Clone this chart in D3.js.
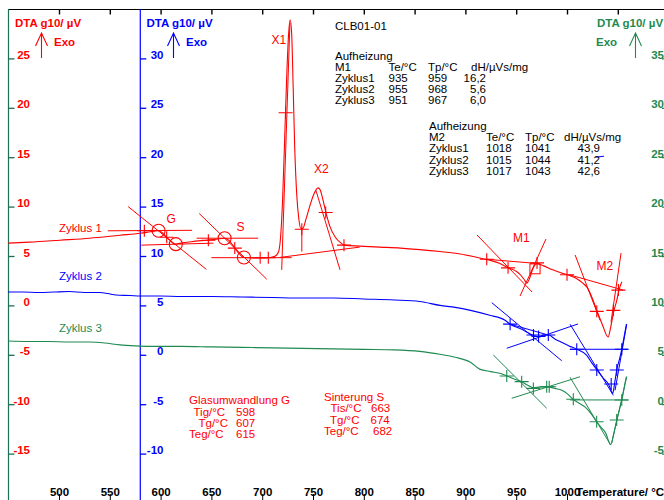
<!DOCTYPE html>
<html><head><meta charset="utf-8">
<script src="https://cdn.jsdelivr.net/npm/d3@7/dist/d3.min.js"></script>
<style>
body{margin:0;background:#fff;}
svg{display:block;font-family:"Liberation Sans",Arial,sans-serif;}
</style></head><body>
<script>
// ---------- data ----------
const xTicks = [500,550,600,650,700,750,800,850,900,950,1000];
const topTicks = [500,550,600,650,700,750,800,850,900,950,1000,1050];
const redTicks = [-15,-10,-5,0,5,10,15,20,25];
const blueTicks = [-10,-5,0,5,10,15,20,25,30];
const greenTicks = [-5,0,5,10,15,20,25,30,35];

// Zyklus 1 (red scale), Temperature °C / µV
const redCurve = [[450,6.3],[471,6.4],[501,6.6],[530,6.8],[560,7.1],[580,7.3],[590,7.45],[597,7.55],[601,7.4],[604,7.1],[609,6.6],[614,6.2],[620,6.3],[630,6.45],[645,6.6],[655,6.7],[663,6.8],[667,6.6],[671,6.1],[676,5.4],[682,4.85],[690,4.8],[700,4.8],[708,4.85],[713,5.0],[716,5.4],[718,6.8],[720,10.5],[722,16.5],[724,22.8],[726,27.5],[727.5,28.9],[729,27.5],[730.5,22],[732,16],[734,11.2],[736,8.8],[738,7.8],[740,7.8],[743,8.7],[747,10.1],[751,11.3],[755,11.9],[757,11.7],[760,10.6],[763,9.3],[767,7.9],[772,6.9],[777,6.35],[781,6.1],[796,6.0],[816,5.9],[836,5.8],[855,5.65],[875,5.45],[895,5.2],[910,4.9],[921,4.65],[934,4.25],[942,3.8],[950,3.45],[955,3.0],[958,2.6],[960.5,2.25],[963,2.7],[966,3.6],[970,4.25],[977,4.0],[986,3.6],[994,3.3],[1000,3.1],[1008,2.8],[1015,2.3],[1020,1.8],[1025,0.7],[1030,-0.7],[1035,-2.0],[1040.5,-3.2],[1043,-2.2],[1046,-0.6],[1049,0.5],[1051,1.5],[1054,2.4]];
// Zyklus 2 (blue scale)
const blueCurve = [[450,6.35],[465,6.35],[480,6.3],[495,6.35],[510,6.4],[525,6.3],[540,6.3],[548,6.2],[556,6.05],[570,6.0],[580,5.95],[600,5.95],[620,5.9],[650,5.9],[680,5.85],[710,5.8],[740,5.75],[770,5.75],[800,5.65],[830,5.55],[855,5.4],[875,5.0],[890,4.8],[905,4.5],[924,4.0],[939,3.5],[944,3.1],[955,2.6],[962,2.2],[967,1.95],[972,1.85],[977,2.0],[982,2.0],[988,1.6],[994,1.3],[1002,0.9],[1010,0.55],[1019,0.0],[1025,-0.9],[1030,-1.6],[1036,-2.4],[1041,-3.0],[1045,-3.9],[1047,-2.8],[1049,-1.5],[1052,-0.3],[1054,0.6],[1056.5,2.0],[1058.5,3.1]];
// Zyklus 3 (green scale)
const greenCurve = [[450,6.4],[470,6.35],[490,6.35],[510,6.3],[530,6.3],[545,6.2],[560,6.0],[575,5.9],[590,5.85],[620,5.85],[650,5.8],[680,5.75],[710,5.7],[740,5.65],[770,5.6],[800,5.55],[830,5.5],[855,5.35],[875,5.05],[890,4.75],[905,4.25],[914,3.55],[925,3.3],[935,3.1],[941,2.85],[948,2.55],[955,2.3],[961,1.95],[967,1.65],[974,1.75],[981,1.75],[988,1.6],[995,1.4],[1001,1.0],[1006,0.5],[1012,0.1],[1018,-0.3],[1024,-1.0],[1029,-1.75],[1034,-2.4],[1038,-2.9],[1043,-4.1],[1046,-3.0],[1049,-1.6],[1052,-0.4],[1054,0.4],[1056.5,1.8],[1058.5,2.8]];

// evaluation lines (tangents / baselines)
const redLines = [
 [[548,7.55],[631,7.6]], [[568,10.0],[645,3.65]], [[581,6.1],[652,6.3]],
 [[635.5,6.8],[696,6.8]], [[638,9.3],[704.5,2.65]], [[650,4.83],[729,4.83]],
 [[717,4.85],[796,5.9]], [[719.2,3.6],[727.3,28.6]], [[739,7.7],[739,5.45]], [[753,11.6],[776.6,3.6]],
 [[921,4.67],[968.6,4.26]], [[911.4,7.13],[965.6,1.36]], [[953.8,0.95],[979.3,6.72]],
 [[1003,3.08],[1055,1.56]], [[1008,5.1],[1032.5,-1.5]], [[1053.2,5.3],[1043.3,-1.7]]
];
const redCross = [[584,7.55],[606,6.9],[647,6.6],[673,5.8],[698,4.83],[706,4.83],[723,19.5],[739,7.7],[762.5,9.4],[780.5,6.1],[921,4.67],[942,3.8],[970.5,4.3],[1000,3.1],[1029.3,-0.6],[1045.6,-0.5],[1050.6,1.55]];
const redCircles = [[598,7.55],[615,6.2],[663,6.8],[682,4.85]];
const blueLines = [
 [[926,5.27],[994.8,-0.6]], [[940.7,0.66],[1010.8,3.12]], [[944,3.1],[981.6,2.0]],
 [[1003,3.1],[1045.6,-4.1]], [[1003,0.56],[1060,0.56]], [[1047.3,-3.6],[1058.8,3.1]],
 [[1028.6,20.0],[1036.4,20.1]]
];
const blueCross = [[944,3.1],[967,2.0],[972,1.85],[981.6,2.0],[1009.6,0.56],[1029.3,-1.54],[1043.5,-2.95],[1049,-1.54],[1053.9,0.56]];
const greenLines = [
 [[927.5,4.98],[980,-0.41]], [[945.6,0.6],[1012.8,2.78]],
 [[1003,2.72],[1043,-4.13]], [[1003,0.43],[1060.3,0.43]], [[1044,-3.93],[1058.8,2.78]]
];
const greenCross = [[940.7,2.85],[955.4,2.28],[966.9,1.6],[980,1.77],[982.5,1.77],[1006.2,0.5],[1029.2,-1.77],[1048.9,-1.6],[1053.9,0.43]];

const m1Header = ["M1","Te/°C","Tp/°C","dH/µVs/mg"];
const m1Rows = [["Zyklus1","935","959","16,2"],["Zyklus2","955","968","5,6"],["Zyklus3","951","967","6,0"]];
const m2Header = ["M2","Te/°C","Tp/°C","dH/µVs/mg"];
const m2Rows = [["Zyklus1","1018","1041","43,9"],["Zyklus2","1015","1044","41,2"],["Zyklus3","1017","1043","42,6"]];
const glassRows = [["Tig/°C","598"],["Tg/°C","607"],["Teg/°C","615"]];
const sinterRows = [["Tis/°C","663"],["Tg/°C","674"],["Teg/°C","682"]];

// ---------- drawing ----------
const RED="#ff0000", BLUE="#0000ff", GREEN="#1f8a50", AXG="#1f6f55";
const W=664,H=500;
const svg=d3.select("body").append("svg").attr("width",W).attr("height",H);

const x=d3.scaleLinear().domain([500,1000]).range([59,567]);
const yRed=d3.scaleLinear().domain([0,25]).range([305.4,58.4]);
const yBlue=d3.scaleLinear().domain([0,30]).range([354.8,58.4]);
const yGreen=d3.scaleLinear().domain([0,35]).range([404.2,58.4]);

// frame lines
svg.append("line").attr("x1",8.5).attr("x2",W).attr("y1",9.5).attr("y2",9.5).attr("stroke","#000");
svg.append("line").attr("x1",8.5).attr("x2",8.5).attr("y1",9).attr("y2",H).attr("stroke",AXG).attr("stroke-width",1.2);
svg.append("line").attr("x1",x(580)).attr("x2",x(580)).attr("y1",9).attr("y2",H).attr("stroke",BLUE).attr("stroke-width",1.2);

// top ticks
const gTop=svg.append("g").attr("transform","translate(0,9.5)")
 .call(d3.axisBottom(x).tickValues(topTicks).tickSize(5).tickFormat(""));
gTop.select(".domain").remove();
gTop.selectAll("line").attr("stroke","#000").attr("stroke-width",1.4);

// bottom axis
const gBot=svg.append("g").attr("transform","translate(0,500)")
 .call(d3.axisTop(x).tickValues(xTicks).tickSize(6).tickFormat(d=>String(d)));
gBot.select(".domain").remove();
gBot.selectAll("line").attr("stroke","#000");
gBot.selectAll("text").attr("y",-4).attr("dy",0).attr("fill","#000")
 .style("font-size","11.5px").style("font-weight","bold").style("font-family","Liberation Sans, Arial");
svg.append("text").attr("x",576).attr("y",496).text("Temperature/ °C")
 .attr("font-size","11.5px").attr("font-weight","bold").attr("fill","#000");

function yAxis(scale,ticks,tx,orient,textX,col,tickCol){
  const ax=(orient==="right"?d3.axisRight(scale):d3.axisLeft(scale)).tickValues(ticks).tickSize(6).tickFormat(d=>String(d));
  const g=svg.append("g").attr("transform",`translate(${tx},0)`).call(ax);
  g.select(".domain").remove();
  g.selectAll("line").attr("stroke",tickCol).attr("stroke-width",1.3);
  g.selectAll("text").attr("x",textX).attr("dy",0).attr("text-anchor","end").attr("fill",col)
   .style("font-size","11.5px").style("font-weight","bold").style("font-family","Liberation Sans, Arial");
}
yAxis(yRed,redTicks,8.5,"right",21.5,RED,AXG);
yAxis(yBlue,blueTicks,x(580),"right",163.5-x(580),BLUE,BLUE);
yAxis(yGreen,greenTicks,668,"left",-4,GREEN,GREEN);

// axis headers
function header(x0,col,exoX,arrowX){
  svg.append("text").attr("x",x0).attr("y",27).text("DTA g10/ µV").attr("fill",col)
   .attr("font-size","11.5px").attr("font-weight","bold");
  svg.append("text").attr("x",exoX).attr("y",45.5).text("Exo").attr("fill",col)
   .attr("font-size","11.5px").attr("font-weight","bold");
  svg.append("path").attr("d",`M${arrowX},58 V33 M${arrowX-6},46 L${arrowX},33 L${arrowX+6},46`)
   .attr("fill","none").attr("stroke",col).attr("stroke-width",1.1);
}
header(15,RED,54,41.5);
header(146.5,BLUE,186,173.5);
header(597,GREEN,596,635.5);

// curves
function curve(data,ys,col){
  svg.append("path").datum(data).attr("fill","none").attr("stroke",col).attr("stroke-width",1.1)
   .attr("d",d3.line().x(d=>x(d[0])).y(d=>ys(d[1])).curve(d3.curveMonotoneX));
}
function segs(lines,ys,col){
  svg.append("g").selectAll("line").data(lines).join("line")
   .attr("x1",d=>x(d[0][0])).attr("y1",d=>ys(d[0][1]))
   .attr("x2",d=>x(d[1][0])).attr("y2",d=>ys(d[1][1]))
   .attr("stroke",col).attr("stroke-width",1);
}
function crosses(pts,ys,col){
  svg.append("g").selectAll("path").data(pts).join("path")
   .attr("d",d=>{const px=x(d[0]),py=ys(d[1]);return `M${px-7},${py}H${px+7}M${px},${py-6}V${py+6}`;})
   .attr("stroke",col).attr("stroke-width",1.1).attr("fill","none");
}
segs(redLines,yRed,RED);
segs(blueLines,yBlue,BLUE);
segs(greenLines,yGreen,GREEN);
curve(redCurve,yRed,RED);
curve(blueCurve,yBlue,BLUE);
curve(greenCurve,yGreen,GREEN);
crosses(redCross,yRed,RED);
crosses(blueCross,yBlue,BLUE);
crosses(greenCross,yGreen,GREEN);
svg.append("g").selectAll("circle").data(redCircles).join("circle")
 .attr("cx",d=>x(d[0])).attr("cy",d=>yRed(d[1])).attr("r",6.5)
 .attr("fill","none").attr("stroke",RED).attr("stroke-width",1.1);
svg.append("rect").attr("x",x(963.5)).attr("y",yRed(4.2)).attr("width",x(973.5)-x(963.5)).attr("height",yRed(3.2)-yRed(4.2))
 .attr("fill","none").attr("stroke",RED);

// texts
function txt(t,x0,y0,col,size,anchor){
  svg.append("text").attr("x",x0).attr("y",y0).text(t).attr("fill",col)
   .attr("font-size",size||"11.5px").attr("text-anchor",anchor||"start");
}
txt("X1",271.5,44,RED,"12px");
txt("X2",314,173,RED,"12px");
txt("G",166.5,222.5,RED,"12px");
txt("S",236.5,231,RED,"12px");
txt("M1",513,242,RED,"12px");
txt("M2",596.5,270,RED,"12px");
txt("Zyklus 1",59,232,RED);
txt("Zyklus 2",59,280,BLUE);
txt("Zyklus 3",59,332,GREEN);

txt("CLB01-01",335,30,"#000");
function table(x0,cols,y0,header,rows){
  txt("Aufheizung",x0,y0,"#000");
  header.forEach((h,i)=>txt(h,cols[i],y0+11.2,"#000"));
  rows.forEach((r,j)=>{
    const yy=y0+11.2*(j+2);
    txt(r[0],cols[0],yy,"#000");txt(r[1],cols[1],yy,"#000");txt(r[2],cols[2],yy,"#000");
    txt(r[3],cols[4],yy,"#000","11.5px","end");
  });
}
table(335,[335,388.5,428,471,486],59.5,m1Header,m1Rows);
table(429,[429,486,525,564,600],130,m2Header,m2Rows);

txt("Glasumwandlung G",189,404,RED);
const gx=[193.5,198.5,189];
glassRows.forEach((r,i)=>{txt(r[0],gx[i],416+11.2*i,RED);txt(r[1],236,416+11.2*i,RED);});
txt("Sinterung S",324,400.5,RED);
const sx=[330.5,330,324],svx=[371,370.5,373];
sinterRows.forEach((r,i)=>{txt(r[0],sx[i],412+11.5*i,RED);txt(r[1],svx[i],412+11.5*i,RED);});
</script>
</body></html>
